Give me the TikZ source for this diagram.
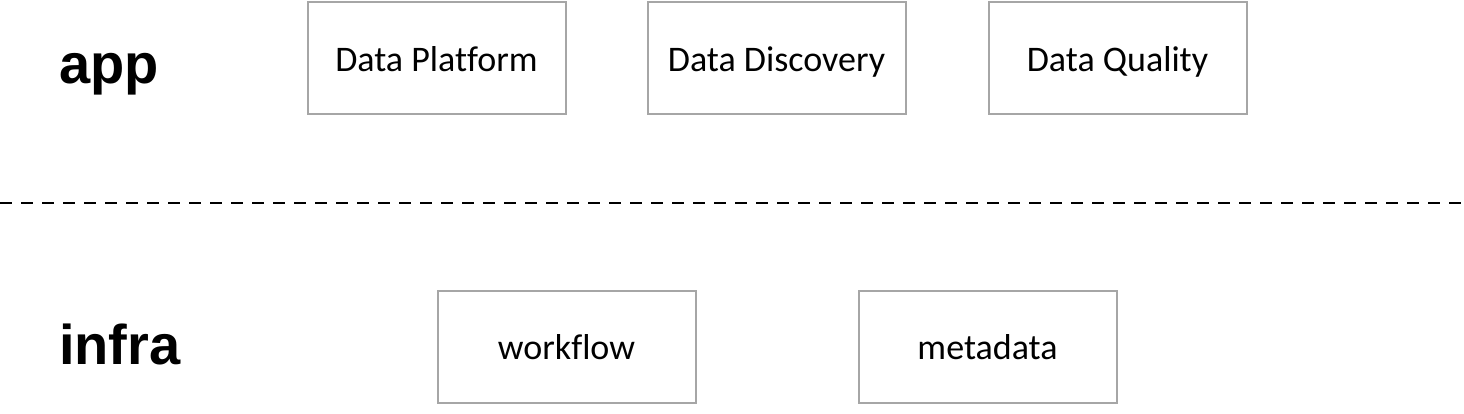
\documentclass[tikz,border=0pt]{standalone}
\usepackage{fontspec}
\setmainfont[Ligatures={NoCommon}]{Carlito}
\newfontfamily\labelfont{Liberation Sans}
\tikzset{
    layerbox/.style={draw=black!35, line width=2pt, minimum width=258pt, minimum height=112pt,
        inner sep=0pt, text height=26pt, text depth=0pt, font=\fontsize{36}{42}\selectfont},
    layername/.style={anchor=base west, inner sep=0pt, font=\labelfont\bfseries\fontsize{56}{64}\selectfont}
}
\begin{document}
\begin{tikzpicture}[x=1pt, y=1pt]
\useasboundingbox (0,0) rectangle (1464,414);
% Layer names
\node[layername] (app) at (59, 330) {app};
\node[layername] (infra) at (59, 49) {infra};

% App layer (top)
\node[layerbox] (platform) at (436.5, 355.5) {Data Platform};
\node[layerbox] (discovery) at (776.5, 355.5) {Data Discovery};
\node[layerbox] (quality) at (1117.5, 355.5) {Data Quality};

% Infra layer (bottom)
\node[layerbox] (workflow) at (566.5, 67) {workflow};
\node[layerbox] (metadata) at (987.5, 67) {metadata};

% Separator
\draw[line width=2pt, dash pattern=on 12pt off 9pt] (0, 211) -- (1464, 211);

\end{tikzpicture}
\end{document}
